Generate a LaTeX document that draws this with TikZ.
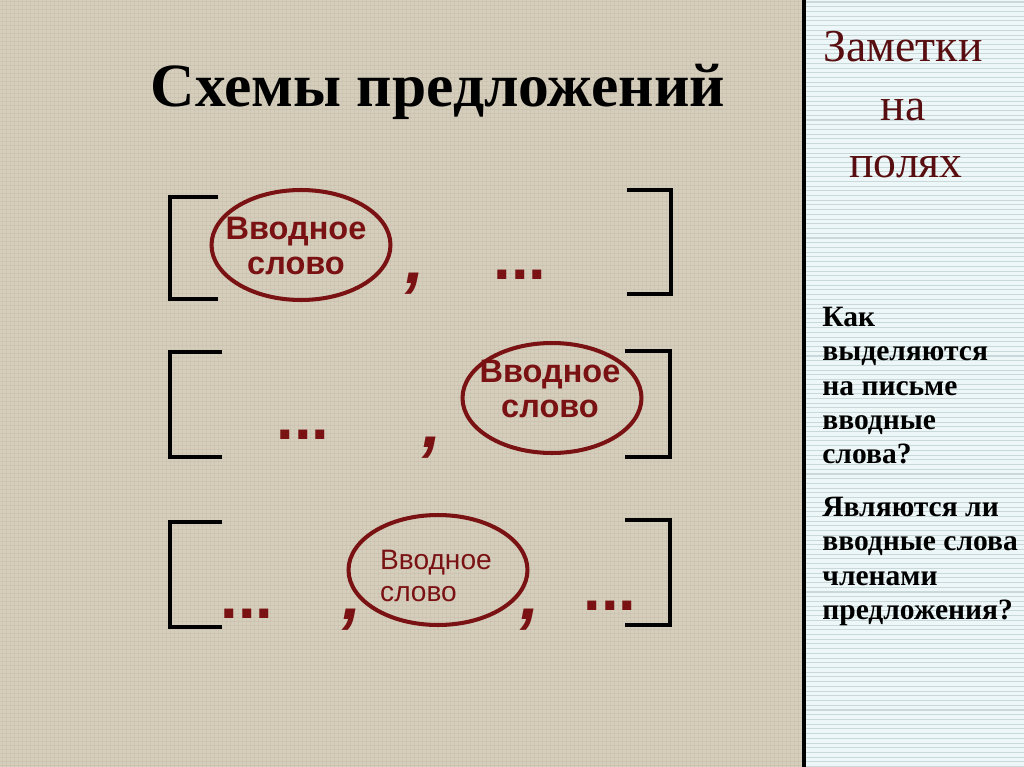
\documentclass[tikz,border=0pt]{standalone}
\usepackage{fontspec}
\setmainfont{Liberation Serif}
\setsansfont{Liberation Sans}
\usepackage{tikz}
\usetikzlibrary{shapes.geometric}
\usetikzlibrary{positioning}
\definecolor{paper}{RGB}{214,206,188}
\definecolor{weave}{RGB}{190,181,160}
\definecolor{margin}{RGB}{238,247,247}
\definecolor{ruled}{RGB}{200,216,219}
\definecolor{wine}{RGB}{122,18,20}
\definecolor{notes}{RGB}{88,14,16}
\tikzset{
brk/.style={ % square brackets of the schemes
line width=2.3pt, line join=miter},
oval/.style={ % ring round the parenthetical word
ellipse, draw=wine, line width=2.3pt,
minimum width=3.58cm, minimum height=2.2cm, inner sep=0pt},
word/.style={text=wine, align=center, inner sep=0pt,
font=\sffamily\bfseries\fontsize{18.5}{19.6}\selectfont},
dots/.style={text=wine, inner sep=0pt,
font=\sffamily\bfseries\fontsize{36}{36}\selectfont},
comma/.style={text=wine, inner sep=0pt,
font=\sffamily\bfseries\itshape\fontsize{40}{40}\selectfont},
notetitle/.style={text=notes, anchor=base,
font=\fontsize{26}{26}\selectfont},
question/.style={anchor=north west, align=left, inner sep=0pt,
font=\bfseries\fontsize{16.8}{19.5}\selectfont}}

\begin{document}
\begin{tikzpicture}[x=0.02cm,y=-0.02cm]
\useasboundingbox (0,0) rectangle (1024,767);
% background
\fill[paper] (0,0) rectangle (804,767);
\foreach \k in {0,...,191}
  \draw[weave, opacity=0.35, line width=0.4pt] (0,{1+4*\k}) -- (804,{1+4*\k});
\foreach \k in {0,...,200}
  \draw[weave, opacity=0.25, line width=0.4pt] ({2+4*\k},0) -- ({2+4*\k},767);
\fill[margin] (804,0) rectangle (1024,767);
\foreach \k in {0,...,162}
  \draw[ruled, line width=0.6pt] (806,{2+4.72*\k}) -- (1024,{2+4.72*\k});
\draw[line width=2.4pt] (804,0) -- (804,767);

\node[anchor=base, font=\bfseries\fontsize{35}{35}\selectfont] (title) at (438,107) {Схемы предложений};

% first scheme
\draw[brk] (218,197) -- (170,197) -- (170,299) -- (218,299);
\draw[brk] (627,190) -- (671,190) -- (671,294) -- (627,294);
\node[oval] (o1) at (301,245) {};
\node[word] (t1) at (296,246) {Вводное\\слово};
\node[comma] (c1) at (415,284) {,};
\node[dots] (d1) at (520,275) {...};

% second scheme
\draw[brk] (222,352) -- (170,352) -- (170,457) -- (222,457);
\draw[brk] (625,351) -- (670,351) -- (670,457) -- (625,457);
\node[oval] (o2) at (552,398) {};
\node[word] (t2) at (550,389) {Вводное\\слово};
\node[dots] (d2) at (303,435) {...};
\node[comma] (c2) at (432,448) {,};

% third scheme
\draw[brk] (222,522) -- (170,522) -- (170,627) -- (222,627);
\draw[brk] (625,520) -- (670,520) -- (670,625) -- (625,625);
\node[oval] (o3) at (438,570) {};
\node[word, align=left, font=\sffamily\fontsize{16}{18}\selectfont] (t3) at (436,576) {Вводное\\слово};
\node[dots] (d3) at (247,614) {...};
\node[comma] (c3) at (352,620) {,};
\node[comma] (c4) at (530,620) {,};
\node[dots] (d4) at (610,606) {...};

% margin notes
\node[notetitle] (n1) at (903,62) {Заметки};
\node[notetitle] (n2) at (903,120) {на};
\node[notetitle] (n3) at (906,177) {полях};

\node[question] (q1) at (822,307) {Как\\выделяются\\на письме\\вводные\\слова?};
\node[question] (q2) at (822,497) {Являются ли\\вводные слова\\членами\\предложения?};
\end{tikzpicture}
\end{document}
